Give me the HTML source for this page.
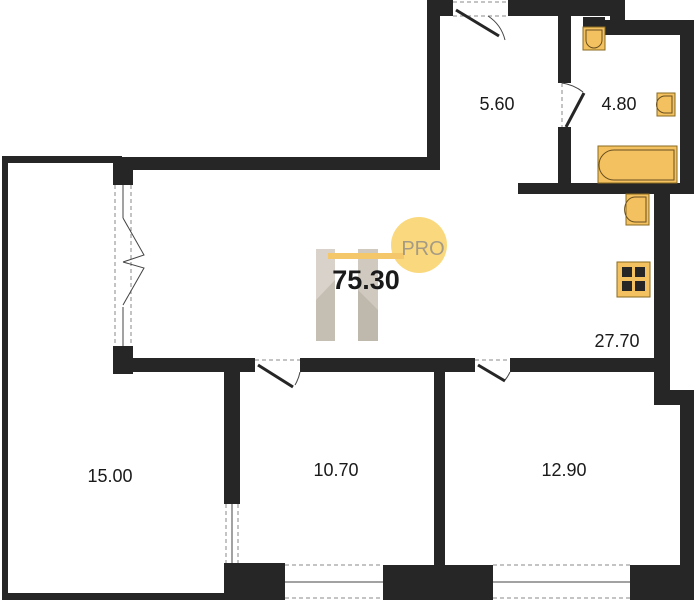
<!DOCTYPE html>
<html><head><meta charset="utf-8"><style>
html,body{margin:0;padding:0;background:#fff;width:694px;height:600px;overflow:hidden}
svg{display:block}
text{font-family:"Liberation Sans",sans-serif}
</style></head><body>
<svg width="694" height="600" viewBox="0 0 694 600" xmlns="http://www.w3.org/2000/svg">
<g fill="#262626">
<rect x="2" y="156" width="6" height="444"/>
<rect x="2" y="156" width="120" height="7"/>
<rect x="2" y="593" width="230" height="7"/>
<rect x="113" y="157" width="327" height="13"/>
<rect x="113" y="157" width="20" height="28"/>
<rect x="113" y="346" width="20" height="28"/>
<rect x="113" y="358" width="142" height="14"/>
<rect x="300" y="358" width="175" height="14"/>
<rect x="510" y="358" width="160" height="14"/>
<rect x="427" y="0" width="13" height="170"/>
<rect x="427" y="0" width="26" height="16"/>
<rect x="508" y="0" width="117" height="16"/>
<rect x="605" y="20" width="89" height="15"/>
<rect x="610" y="0" width="15" height="35"/>
<rect x="680" y="20" width="14" height="174"/>
<rect x="558" y="0" width="13" height="83"/>
<rect x="558" y="127" width="13" height="60"/>
<rect x="518" y="183" width="176" height="11"/>
<rect x="654" y="183" width="16" height="222"/>
<rect x="654" y="390" width="40" height="15"/>
<rect x="680" y="390" width="14" height="210"/>
<rect x="224" y="370" width="16" height="134"/>
<rect x="434" y="370" width="11" height="196"/>
<rect x="224" y="563" width="61" height="37"/>
<rect x="383" y="565" width="110" height="35"/>
<rect x="630" y="565" width="64" height="35"/>
<rect x="583" y="17" width="22" height="10"/>
</g>
<g stroke="#888" stroke-dasharray="4,3" fill="none" stroke-width="1">
<line x1="115" y1="185" x2="115" y2="346"/><line x1="131" y1="185" x2="131" y2="346"/>
<line x1="226" y1="504" x2="226" y2="563"/><line x1="238" y1="504" x2="238" y2="563"/>
<line x1="285" y1="565" x2="383" y2="565"/><line x1="285" y1="598" x2="383" y2="598"/>
<line x1="493" y1="565" x2="630" y2="565"/><line x1="493" y1="598" x2="630" y2="598"/>
<line x1="453" y1="2" x2="508" y2="2"/><line x1="453" y1="16" x2="508" y2="16"/>
<line x1="255" y1="360" x2="300" y2="360"/><line x1="475" y1="360" x2="510" y2="360"/>
<line x1="562" y1="83" x2="562" y2="127"/>
</g>
<g stroke="#444" stroke-width="1" fill="none">
<line x1="123" y1="185" x2="123" y2="218"/><line x1="123" y1="307" x2="123" y2="346"/>
<line x1="232" y1="504" x2="232" y2="563"/>
<line x1="285" y1="582" x2="383" y2="582"/><line x1="493" y1="582" x2="630" y2="582"/>
<path d="M123 218 L144 255 L123 262 M123 262 L144 268 L123 305"/>
<path d="M488 16 A40 40 0 0 1 505 40 M562 83 A44 44 0 0 1 583 92 M300 372 A40 40 0 0 1 295 385 M510 372 A35 35 0 0 1 505 380"/>
</g>
<g stroke="#262626" stroke-width="3" fill="none">
<line x1="456" y1="10" x2="499" y2="36"/>
<line x1="566" y1="127" x2="584" y2="93"/>
<line x1="258" y1="365" x2="293" y2="387"/>
<line x1="478" y1="365" x2="505" y2="381"/>
</g>
<g fill="#f3c160" stroke="#8a6a20" stroke-width="1">
<rect x="583" y="27" width="22" height="23"/>
<rect x="657" y="93" width="18" height="23"/>
<rect x="598" y="146" width="79" height="37"/>
<rect x="626" y="194" width="23" height="31"/>
<rect x="617" y="262" width="33" height="35"/>
</g>
<g fill="none" stroke="#6a5020" stroke-width="1">
<path d="M586 30 L602 30 L602 40 A8 8 0 0 1 586 40 Z"/>
<path d="M672 96 L665 96 A8 8 0 0 0 665 113 L672 113 Z"/>
<path d="M674 150 L614 150 A15 15 0 0 0 614 180 L674 180 Z"/>
<path d="M646 197 L635 197 A10 12 0 0 0 635 222 L646 222 Z"/>
</g>
<g fill="#262626"><rect x="622" y="267" width="10" height="10"/><rect x="635" y="267" width="10" height="10"/><rect x="622" y="281" width="10" height="10"/><rect x="635" y="281" width="10" height="10"/></g>
<rect x="316" y="249" width="19" height="92" fill="#d8d2ca"/>
<rect x="358" y="249" width="20" height="92" fill="#d0c9bf"/>
<polygon points="316,300 335,280 335,341 316,341" fill="#c5beb3"/>
<polygon points="358,290 378,310 378,341 358,341" fill="#bfb8ad"/>
<circle cx="419" cy="245" r="28" fill="#fad97e"/>
<rect x="328" y="253" width="76" height="6" fill="#f4c86a"/>
<text x="423" y="255" font-size="20" fill="#a49a85" text-anchor="middle">PRO</text>
<text x="366" y="289" font-size="27" font-weight="bold" fill="#1a1a1a" text-anchor="middle">75.30</text>
<g font-size="18" fill="#1a1a1a" text-anchor="middle">
<text x="497" y="110">5.60</text>
<text x="619" y="110">4.80</text>
<text x="617" y="347">27.70</text>
<text x="110" y="482">15.00</text>
<text x="336" y="476">10.70</text>
<text x="564" y="476">12.90</text>
</g>
</svg>
</body></html>
